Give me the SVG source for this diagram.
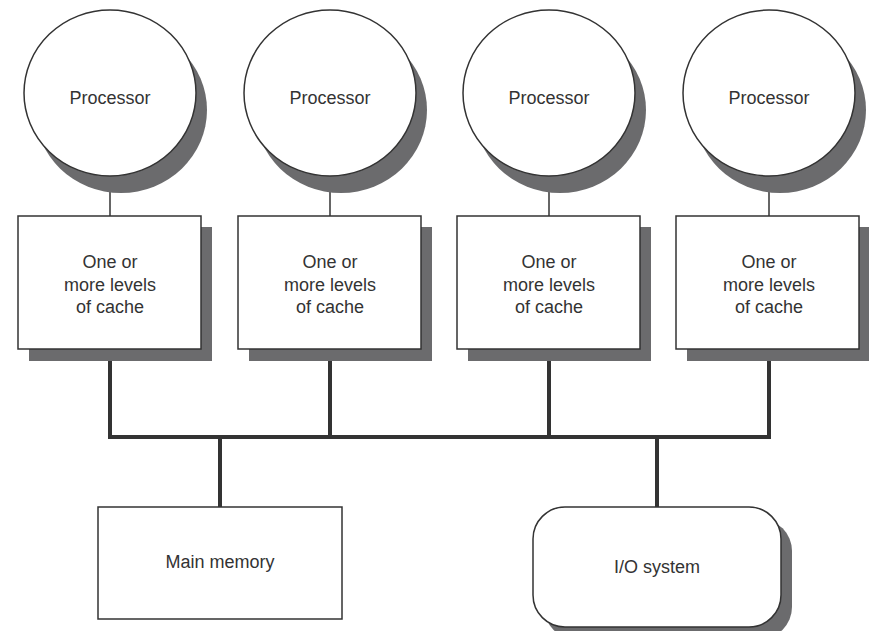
<svg xmlns="http://www.w3.org/2000/svg" width="869" height="631" viewBox="0 0 869 631">
<style>
.shadow{fill:#6b6b6d;stroke:none}
.shape{fill:#fff;stroke:#333;stroke-width:1.5}
.thin{stroke:#333;stroke-width:1.5;fill:none}
.bus{stroke:#333;stroke-width:4;fill:none;stroke-linecap:square}
text{font-family:"Liberation Sans",Arial,sans-serif;font-size:18px;fill:#333;text-anchor:middle}
</style>
<rect width="869" height="631" fill="#fff"/>
<g id="connectors">
<line class="thin" x1="110" y1="176" x2="110" y2="216"/>
<line class="thin" x1="330" y1="176" x2="330" y2="216"/>
<line class="thin" x1="549" y1="176" x2="549" y2="216"/>
<line class="thin" x1="769" y1="176" x2="769" y2="216"/>
<path class="bus" d="M110 350V437M330 350V437M549 350V437M769 350V437M110 437H769M220 437V507M657 437V507"/>
</g>
<g id="proc1"><ellipse class="shadow" cx="121" cy="110" rx="86" ry="83"/><ellipse class="shape" cx="110" cy="93" rx="86" ry="83"/><text x="110" y="104">Processor</text></g>
<g id="proc2"><ellipse class="shadow" cx="341" cy="110" rx="86" ry="83"/><ellipse class="shape" cx="330" cy="93" rx="86" ry="83"/><text x="330" y="104">Processor</text></g>
<g id="proc3"><ellipse class="shadow" cx="560" cy="110" rx="86" ry="83"/><ellipse class="shape" cx="549" cy="93" rx="86" ry="83"/><text x="549" y="104">Processor</text></g>
<g id="proc4"><ellipse class="shadow" cx="780" cy="110" rx="86" ry="83"/><ellipse class="shape" cx="769" cy="93" rx="86" ry="83"/><text x="769" y="104">Processor</text></g>
<g id="cache1"><rect class="shadow" x="29" y="227" width="183" height="134"/><rect class="shape" x="18" y="216" width="183" height="133"/><text x="110" y="268">One or</text><text x="110" y="291">more levels</text><text x="110" y="313">of cache</text></g>
<g id="cache2"><rect class="shadow" x="249" y="227" width="183" height="134"/><rect class="shape" x="238" y="216" width="183" height="133"/><text x="330" y="268">One or</text><text x="330" y="291">more levels</text><text x="330" y="313">of cache</text></g>
<g id="cache3"><rect class="shadow" x="468" y="227" width="183" height="134"/><rect class="shape" x="457" y="216" width="183" height="133"/><text x="549" y="268">One or</text><text x="549" y="291">more levels</text><text x="549" y="313">of cache</text></g>
<g id="cache4"><rect class="shadow" x="687" y="227" width="183" height="134"/><rect class="shape" x="676" y="216" width="183" height="133"/><text x="769" y="268">One or</text><text x="769" y="291">more levels</text><text x="769" y="313">of cache</text></g>
<g id="memory"><rect class="shape" x="98" y="507" width="244" height="112"/><text x="220" y="568">Main memory</text></g>
<g id="io"><rect class="shadow" x="544" y="519" width="248" height="120" rx="32"/><rect class="shape" x="533" y="507" width="248" height="120" rx="32"/><text x="657" y="573">I/O system</text></g>
</svg>
